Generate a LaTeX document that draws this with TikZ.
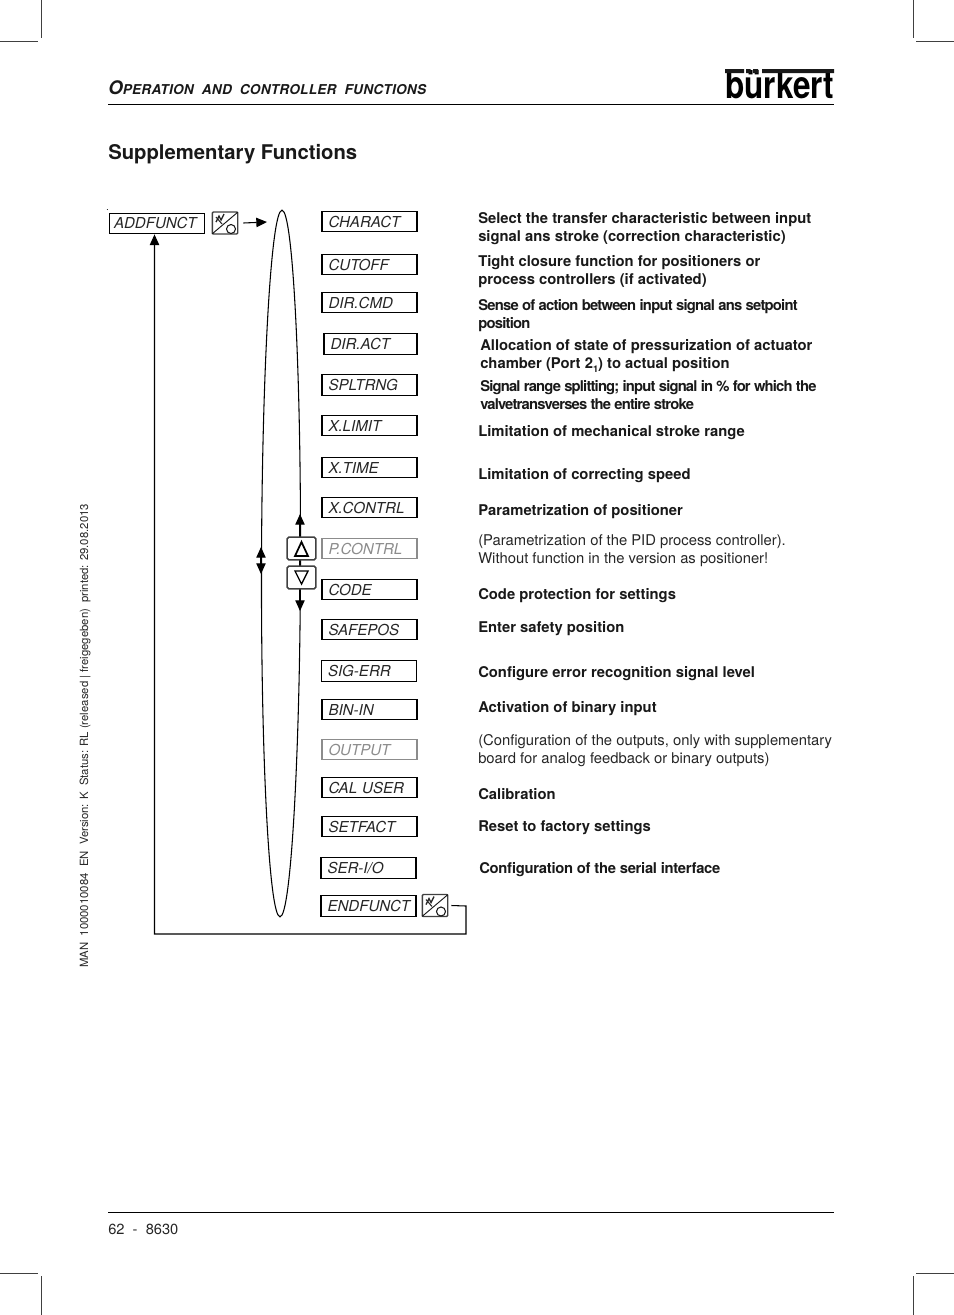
\documentclass[tikz,border=0pt]{standalone}
\usepackage{fontspec}
\setmainfont{TeX Gyre Heros}
\usetikzlibrary{arrows.meta,shapes.geometric}
\newcommand{\sizeb}{\fontsize{11.1pt}{13pt}\selectfont}
\tikzset{
  x=0.75pt,y=-0.75pt,
  crop/.style={line width=0.5pt,black!75},
  rulel/.style={line width=0.7pt,black},
  fnbox/.style={draw=black,line width=0.8pt,rectangle,minimum width=71.25pt,minimum height=15.5pt,inner sep=0pt,text width=61.5pt,align=left,font=\fontsize{11.3pt}{13pt}\selectfont\itshape,text=black!85},
  fngray/.style={fnbox,draw=black!45,text=black!45},
  desc/.style={anchor=base west,inner sep=0pt,font=\sizeb\bfseries,text=black!90},
  descn/.style={anchor=base west,inner sep=0pt,font=\sizeb,text=black!85},
  conn/.style={line width=0.8pt,black},
  arr/.style={conn,-{Triangle[length=8pt,width=7pt]}},
  iconbox/.style={draw=black!75,fill=white,line width=1pt,rounded corners=0.8pt,rectangle,minimum width=19pt,minimum height=16.5pt,inner sep=0pt},
  btn/.style={draw=black!75,fill=white,line width=1.2pt,rounded corners=1.2pt,rectangle,minimum width=21.5pt,minimum height=17pt,inner sep=0pt},
  modeglyph/.pic={
    \draw[line width=0.7pt,black!90] (-13,11)--(13,-11);
    \draw[line width=1pt,black!85] (-9,-1)--(-6,-7)--(-4,-3)--(-1,-9);
    \draw[line width=0.8pt,black!85] (-9,-6)--(-3,1);
    \draw[line width=0.8pt,black!90] (6,6) circle[radius=4.5];
  },
}
\begin{document}
\begin{tikzpicture}
\useasboundingbox (0,0) rectangle (954,1315);
% crop marks
\draw[crop] (0,41)--(38,41) (41,0)--(41,38) (916,41)--(954,41) (913,0)--(913,38);
\draw[crop] (0,1273)--(38,1273) (41,1276)--(41,1315) (916,1273)--(954,1273) (913,1276)--(913,1315);
% header
\node[anchor=base west,inner sep=0pt,font=\bfseries\itshape,text=black!90] (hdr) at (108,94.5)
  {{\fontsize{14pt}{15pt}\selectfont O}{\fontsize{10.2pt}{13pt}\selectfont\addfontfeature{LetterSpace=2}PERATION\ \ AND\ \ CONTROLLER\ \ FUNCTIONS}};
\draw[rulel] (108,104.5)--(834,104.5);
% logo
\node[anchor=base west,inner sep=0pt,font=\bfseries] (logo) at (725,98.5)
  {\resizebox{81.5pt}{21pt}{bürkert}};
\fill[black!90] (725,69) rectangle (744,73) (746,69) rectangle (750.5,73) (753,69) rectangle (758,73) (762,69) rectangle (834,73);
% title
\node[anchor=base west,inner sep=0pt,font=\fontsize{15.2pt}{18pt}\selectfont\bfseries,text=black!90] (title) at (108,159) {Supplementary Functions};
% side text
\node[rotate=90,anchor=base west,inner sep=0pt,font=\fontsize{8.5pt}{10pt}\selectfont,text=black!85] (side) at (88,968)
  {MAN\ \ 1000010084\ \ EN\ \ Version: K\ \ Status: RL (released | freigegeben)\ \ printed: 29.08.2013};
\fill (107.3,209.5) circle[radius=0.5];
% oval
\node[draw=black,line width=0.8pt,ellipse,minimum width=29.25pt,minimum height=530pt,inner sep=0pt,rotate=-0.16] (oval) at (281,563.5) {};
% arrows on oval
\coordinate (ru1) at (300,528); \coordinate (ru2) at (300,514);
\coordinate (rd1) at (300,597); \coordinate (rd2) at (300,611);
\coordinate (lu1) at (261,561); \coordinate (lu2) at (261,547);
\coordinate (ld1) at (261,560); \coordinate (ld2) at (261,574);
\draw[arr] (ru1)--(ru2);
\draw[arr] (rd1)--(rd2);
\draw[arr] (lu1)--(lu2);
\draw[arr] (ld1)--(ld2);
% buttons
\draw[conn] (ru1)--(rd1);
\node[btn] (up) at (301.5,548.5) {};
\node[btn] (down) at (301.5,577.5) {};
\draw[line width=1.3pt] (295,556)--(301.5,542)--(308,556)--cycle;
\draw[line width=1pt] (295,571)--(301.5,584)--(308,571)--cycle;
% function boxes
\node[fnbox,text width=64.5pt] (addf) at (157,223.5) {\raisebox{-1pt}{ADDFUNCT}};
\node[fnbox] (b1) at (369.5,221.5) {CHARACT};
\node[fnbox] (b2) at (369.5,264.5) {CUTOFF};
\node[fnbox] (b3) at (369.5,302.5) {DIR.CMD};
\node[fnbox,minimum width=69.75pt,text width=60pt] (b4) at (370.5,344) {DIR.ACT};
\node[fnbox] (b5) at (369.5,385) {SPLTRNG};
\node[fnbox] (b6) at (369.5,425.5) {X.LIMIT};
\node[fnbox] (b7) at (369.5,467.5) {X.TIME};
\node[fnbox] (b8) at (369.5,507.5) {X.CONTRL};
\node[fngray] (b9) at (369.5,548.5) {P.CONTRL};
\node[fnbox] (b10) at (369.5,589.5) {CODE};
\node[fnbox] (b11) at (369.5,629.5) {SAFEPOS};
\node[fnbox] (b12) at (369,671) {SIG-ERR};
\node[fnbox] (b13) at (369.5,709.5) {BIN-IN};
\node[fngray] (b14) at (369.5,749.5) {OUTPUT};
\node[fnbox] (b15) at (369.5,787.5) {CAL USER};
\node[fnbox] (b16) at (369.5,826.5) {SETFACT};
\node[fnbox] (b17) at (368.5,868) {SER-I/O};
\node[fnbox] (b18) at (368.5,906) {ENDFUNCT};
% icons
\node[iconbox] (icona) at (225,223) {};
\pic at (icona) {modeglyph};
\node[iconbox] (icone) at (435,905.5) {};
\pic at (icone) {modeglyph};
% connectors
\coordinate (ovalin) at (267,222);
\draw[arr] (icona.east)++(5,0) -- (ovalin);
\coordinate (c1) at (466,906);
\coordinate (c2) at (466,934);
\coordinate (c3) at (154.5,934);
\draw[arr] (icone.east)++(3,0) -- (c1) -- (c2) -- (c3) -- (addf.south -| c3);
% descriptions
\node[desc] (d1a) at (478,223) {Select the transfer characteristic between input};
\node[desc] (d1b) at (478,241) {signal ans stroke (correction characteristic)};
\node[desc] (d2a) at (478,266) {Tight closure function for positioners or};
\node[desc] (d2b) at (478,284) {process controllers (if activated)};
\node[desc] (d3a) at (478,310) {\addfontfeature{LetterSpace=-5.2}Sense of action between input signal ans setpoint};
\node[desc] (d3b) at (478,328) {\addfontfeature{LetterSpace=-5.2}position};
\node[desc] (d4a) at (480,350) {Allocation of state of pressurization of actuator};
\node[desc] (d4b) at (480,368) {chamber (Port 2\raisebox{-3pt}{\fontsize{7pt}{9pt}\selectfont 1}) to actual position};
\node[desc] (d5a) at (480,391) {\addfontfeature{LetterSpace=-5.6}Signal range splitting; input signal in \% for which the};
\node[desc] (d5b) at (480,409) {\addfontfeature{LetterSpace=-5.6}valvetransverses the entire stroke};
\node[desc] (d6) at (478,436) {Limitation of mechanical stroke range};
\node[desc] (d7) at (478,479) {Limitation of correcting speed};
\node[desc] (d8) at (478,515) {Parametrization of positioner};
\node[descn] (d9a) at (478,545) {(Parametrization of the PID process controller).};
\node[descn] (d9b) at (478,563) {Without function in the version as positioner!};
\node[desc] (d10) at (478,599) {Code protection for settings};
\node[desc] (d11) at (478,632) {Enter safety position};
\node[desc] (d12) at (478,677) {Configure error recognition signal level};
\node[desc] (d13) at (478,712) {Activation of binary input};
\node[descn] (d14a) at (478,745) {(Configuration of the outputs, only with supplementary};
\node[descn] (d14b) at (478,763) {board for analog feedback or binary outputs)};
\node[desc] (d15) at (478,799) {Calibration};
\node[desc] (d16) at (478,831) {Reset to factory settings};
\node[desc] (d17) at (479,873) {\addfontfeature{LetterSpace=-2}Configuration of the serial interface};
% footer
\draw[rulel] (108,1212)--(834,1212);
\node[anchor=base west,inner sep=0pt,font=\fontsize{11pt}{13pt}\selectfont,text=black!85] (page) at (108,1234) {62\ \ -\ \ 8630};
\end{tikzpicture}
\end{document}
